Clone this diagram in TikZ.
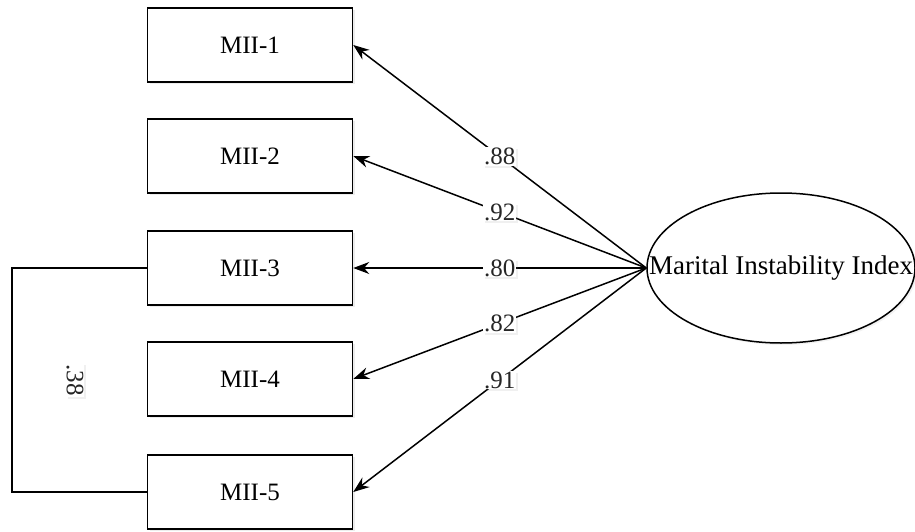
\documentclass[tikz,border=0pt]{standalone}
\usepackage{fontspec}
\setmainfont{Liberation Serif}
\usetikzlibrary{shapes.geometric,arrows.meta,shadows}
\newcommand{\labelsize}{\fontsize{25}{29}\selectfont}
\tikzset{item/.style={draw=#1,line width=1.5pt,fill=white,minimum width=205pt,minimum height=74pt,inner sep=0pt,drop shadow={opacity=0.15,shadow xshift=2pt,shadow yshift=-2pt}},item/.default=black}
\tikzset{factor/.style={draw=#1,line width=1.5pt,ellipse,fill=white,minimum width=268pt,minimum height=150pt,inner sep=0pt,drop shadow={opacity=0.1,shadow xshift=2pt,shadow yshift=-2pt}},factor/.default=black}
\tikzset{loading/.style={color=#1,line width=1.5pt,-{Stealth[length=16pt,width=12pt]}},loading/.default=black}
\tikzset{weight/.style={fill=white,inner sep=1pt,text=#1,drop shadow={opacity=0.12,shadow xshift=2pt,shadow yshift=-2pt}},weight/.default=black!85}

\begin{document}
\begin{tikzpicture}[x=1pt,y=-1pt,font=\labelsize]
		\useasboundingbox (0,0) rectangle (915,532);
		\node [item] (m1) at (250,45) {MII-1};
		\node [item] (m2) at (250,156) {MII-2};
		\node [item] (m3) at (250,268) {MII-3};
		\node [item] (m4) at (250,379) {MII-4};
		\node [item] (m5) at (250,492) {MII-5};
		\node [factor,font=\fontsize{27}{31}\selectfont] (mii) at (781,268) {\makebox[0pt]{Marital Instability Index}};
		
		\draw [loading] (mii.west) -- node [weight,pos=0.5] {.88} (m1.east);
		\draw [loading] (mii.west) -- node [weight,pos=0.5] {.92} (m2.east);
		\draw [loading] (mii.west) -- node [weight,pos=0.5] {.80} (m3.east);
		\draw [loading] (mii.west) -- node [weight,pos=0.5] {.82} (m4.east);
		\draw [loading] (mii.west) -- node [weight,pos=0.5] {.91} (m5.east);
		
		\coordinate (c3) at (12,268);
		\coordinate (c5) at (12,492);
		\draw [line width=1.5pt] (m3.west) -- (c3) -- (c5) -- (m5.west);
		\node [weight,rotate=-90] (r35) at (75,380) {.38};
	\end{tikzpicture}
\end{document}
